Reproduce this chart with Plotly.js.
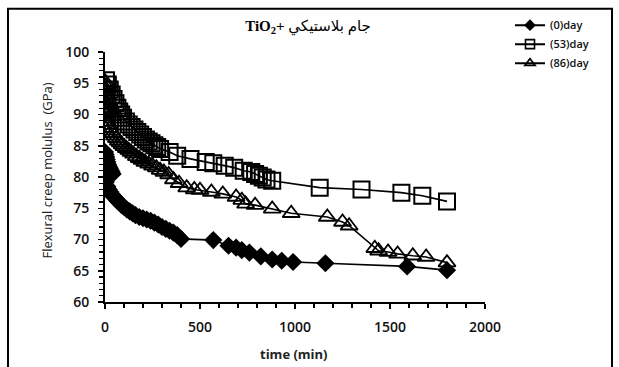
<!DOCTYPE html>
<html>
<head>
<meta charset="utf-8">
<script src="https://cdn.plot.ly/plotly-3.0.1.min.js"></script>
<style>html,body{margin:0;padding:0;background:#fff;}#chart{width:619px;height:367px;}</style>
</head>
<body>
<div id="chart"></div>
<script>
// ---- data ----
var seriesNames = ["(0)day", "(53)day", "(86)day"];

var t0 = [0, 3, 6, 9, 12, 16, 20, 25, 30, 35, 40,
          4, 12, 20, 28, 36, 45, 55, 65, 75, 88, 100, 115, 130, 145, 160, 180, 200, 220, 240, 260, 280, 300, 320, 340, 360, 380, 400,
          570, 650, 690, 720, 760, 820, 880, 930, 990, 1160, 1590, 1800];
var y0 = [84.0, 83.6, 83.2, 82.8, 82.4, 82.0, 81.7, 81.4, 81.1, 80.8, 80.5,
          79.2, 78.5, 78.0, 77.6, 77.2, 76.9, 76.6, 76.2, 75.9, 75.5, 75.2, 74.8, 74.5, 74.2, 73.9, 73.6, 73.4, 73.2, 73.0, 72.7, 72.4, 72.0, 71.7, 71.4, 71.1, 70.7, 70.1,
          69.9, 69.0, 68.7, 68.3, 67.9, 67.3, 66.8, 66.6, 66.4, 66.2, 65.7, 65.1];

var t53 = [5, 15, 25, 35, 45, 55, 65, 75, 85, 95, 110, 125, 140, 155, 170, 185, 200, 215, 230, 245, 260, 275, 290, 340, 380, 450, 530, 570, 630, 680, 730, 770, 790, 810, 830, 850, 880, 1130, 1350, 1560, 1670, 1800];
var y53 = [95.5, 94.8, 94.0, 93.2, 92.5, 91.8, 91.1, 90.5, 90.0, 89.5, 88.9, 88.4, 88.0, 87.6, 87.2, 86.8, 86.4, 86.0, 85.7, 85.4, 85.1, 84.8, 84.5, 84.0, 83.4, 82.9, 82.4, 82.2, 81.8, 81.5, 81.0, 80.8, 80.5, 80.2, 79.9, 79.6, 79.4, 78.3, 78.0, 77.5, 77.0, 76.1];

var t86 = [2, 6, 10, 15, 20, 25, 30, 36, 42,
           2, 10, 18, 26, 34, 42, 50, 60, 70, 80, 90, 100, 112, 125, 137, 150, 165, 180, 195, 210, 230, 250, 270, 290, 310, 335, 360, 390, 430, 470, 500, 560, 620, 690, 720, 740, 790, 880, 980, 1170, 1250, 1285, 1420, 1440, 1490, 1540, 1620, 1690, 1800];
var y86 = [95.2, 94.6, 93.8, 93.0, 92.2, 91.5, 90.8, 90.2, 89.7,
           89.3, 88.8, 88.3, 87.8, 87.4, 87.0, 86.6, 86.2, 85.8, 85.5, 85.2, 84.9, 84.6, 84.3, 84.0, 83.7, 83.3, 83.0, 82.7, 82.4, 82.1, 81.8, 81.5, 81.1, 80.8, 80.4, 79.6, 79.0, 78.3, 78.0, 77.9, 77.6, 77.3, 76.8, 76.3, 75.7, 75.5, 74.9, 74.2, 73.6, 72.8, 72.2, 68.6, 68.2, 68.0, 67.7, 67.4, 67.2, 66.3];

var xTickVals = [0, 500, 1000, 1500, 2000];
var yTickVals = [60, 65, 70, 75, 80, 85, 90, 95, 100];
var titleText = "<b>TiO<sub>2</sub>+</b> جام بلاستيكي";
var xTitle = "time (min)";
var yTitle = "Flexural creep molulus  (GPa)";

// ---- plot ----
var lineStyle = {color: "#000", width: 1.6};
var symbols = ["diamond", "square-open", "triangle-up-open"];
var sizes = [14, 16, 15];
var lineWidths = [0, 2, 1.8];
var legendSizes = [9, 9, 9];
var xs = [t0, t53, t86], ys = [y0, y53, y86];

var traces = [];
for (var i = 0; i < 3; i++) {
  traces.push({x: xs[i], y: ys[i], name: seriesNames[i], type: "scatter", mode: "lines+markers", line: lineStyle,
    showlegend: false, legendgroup: "g" + i,
    marker: {symbol: symbols[i], size: sizes[i], color: "#000", line: {color: "#000", width: lineWidths[i]}}});
}
// legend entries (smaller symbols, as in the reference legend)
for (var j = 0; j < 3; j++) {
  traces.push({x: [null], y: [null], name: seriesNames[j], type: "scatter", mode: "lines+markers", line: {color: "#000", width: 2},
    legendgroup: "g" + j, showlegend: true,
    marker: {symbol: symbols[j], size: legendSizes[j], color: "#000", line: {color: "#000", width: j === 0 ? 0 : 1.6}}});
}

var axisFont = {family: "Open Sans, sans-serif", size: 14, color: "#111", weight: 600};
var layout = {
  width: 619, height: 367,
  margin: {l: 105, r: 134, t: 50.5, b: 64.5},
  paper_bgcolor: "#fff", plot_bgcolor: "#fff",
  showlegend: true,
  title: {text: titleText, font: {family: "Liberation Serif, DejaVu Sans, serif", size: 15, color: "#000"},
          xref: "container", yref: "container", x: 308/619, y: 1 - 26/367, xanchor: "center", yanchor: "middle"},
  xaxis: {range: [0, 2000], tickvals: xTickVals, ticks: "outside", ticklen: 5, tickwidth: 1.5, tickcolor: "#000",
          showline: true, linecolor: "#000", linewidth: 2, showgrid: false, zeroline: false,
          tickfont: axisFont, ticklabelstandoff: 6,
          minor: {dtick: 100, ticks: "outside", ticklen: 4, tickwidth: 1.2, tickcolor: "#000", showgrid: false}},
  yaxis: {range: [60, 100], tickvals: yTickVals, ticks: "outside", ticklen: 5, tickwidth: 1.5, tickcolor: "#000",
          showline: true, linecolor: "#000", linewidth: 2, showgrid: false, zeroline: false,
          tickfont: axisFont, ticklabelstandoff: 6,
          minor: {dtick: 1, ticks: "outside", ticklen: 4, tickwidth: 1.2, tickcolor: "#000", showgrid: false}},
  legend: {x: (510 - 105) / 380, y: (302.5 - 10) / 252, xanchor: "left", yanchor: "top", tracegroupgap: 0,
           font: {family: "Open Sans, sans-serif", size: 11, color: "#111", weight: 600}, bgcolor: "rgba(0,0,0,0)"},
  annotations: [
    {text: yTitle, xref: "paper", yref: "paper", x: (47 - 105) / 380, y: (302.5 - 170) / 252, textangle: -90,
     showarrow: false, xanchor: "center", yanchor: "middle", font: {family: "Open Sans, sans-serif", size: 13, color: "#222"}},
    {text: "<b>" + xTitle + "</b>", xref: "paper", yref: "paper", x: (293.5 - 105) / 380, y: (302.5 - 355) / 252,
     showarrow: false, xanchor: "center", yanchor: "middle", font: {family: "Open Sans, sans-serif", size: 13, color: "#222"}}
  ],
  shapes: [
    {type: "rect", xref: "paper", yref: "paper", x0: (8 - 105) / 380, x1: (612 - 105) / 380,
     y0: (302.5 - 375) / 252, y1: (302.5 - 7) / 252, line: {color: "#000", width: 2}, fillcolor: "rgba(0,0,0,0)"}
  ]
};

Plotly.newPlot("chart", traces, layout, {displayModeBar: false, staticPlot: true});
</script>
</body>
</html>
